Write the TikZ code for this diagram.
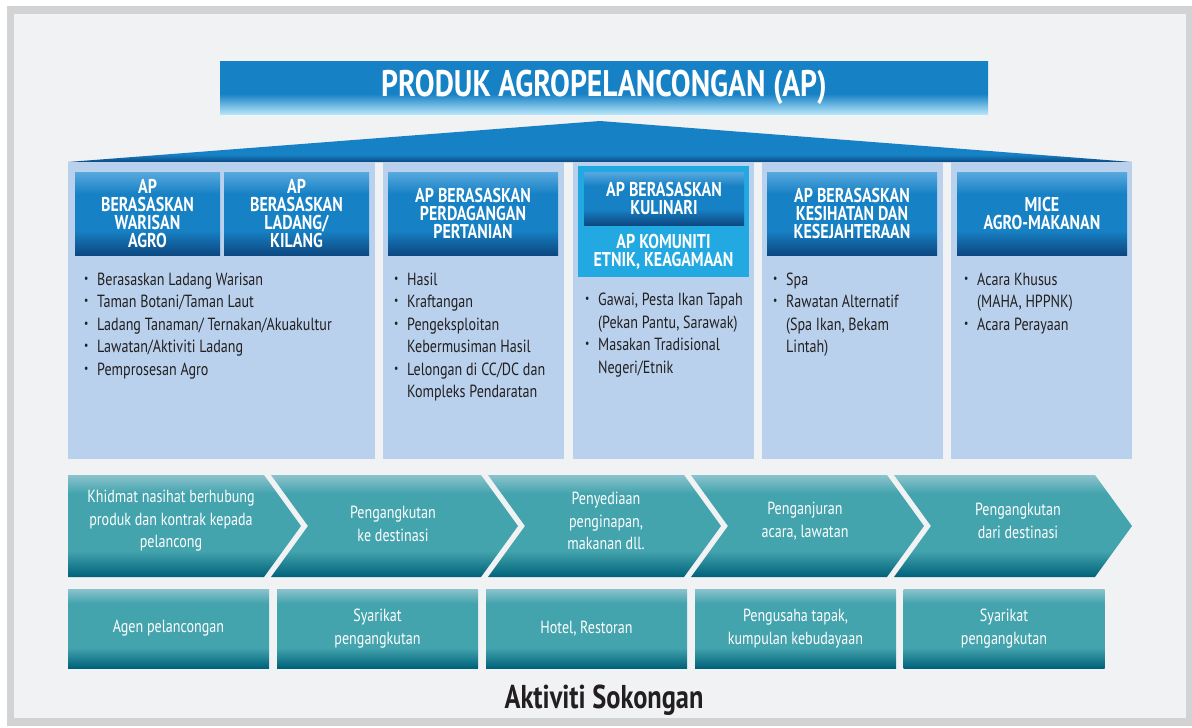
\documentclass[tikz,border=0pt]{standalone}
\usepackage{fontspec}
\setmainfont[FakeStretch=0.8]{PT Sans}
\definecolor{framegray}{HTML}{D1D3D5}
\definecolor{bgfill}{HTML}{F1F2F4}
\definecolor{colblue}{HTML}{B9D1EC}
\definecolor{hdrtop}{HTML}{58A9DE}
\definecolor{hdrmid}{HTML}{1781C5}
\definecolor{hdrdark}{HTML}{0C4881}
\definecolor{titlelight}{HTML}{B4E4F9}
\definecolor{kulcyan}{HTML}{22A9E2}
\definecolor{teallight}{HTML}{8BC3CD}
\definecolor{tealmid}{HTML}{44A4AE}
\definecolor{tealdark}{HTML}{00627A}
\definecolor{textdark}{HTML}{231F20}
\pgfdeclareverticalshading{hdrshade}{100bp}{color(0bp)=(hdrdark); color(25bp)=(hdrdark);
  color(40bp)=(hdrmid); color(62bp)=(hdrmid); color(75bp)=(hdrtop); color(100bp)=(hdrtop)}
\pgfdeclareverticalshading{titleshade}{100bp}{color(0bp)=(titlelight); color(25bp)=(titlelight);
  color(44bp)=(hdrmid); color(100bp)=(hdrmid)}
\pgfdeclareverticalshading{roofshade}{100bp}{color(0bp)=(hdrdark); color(25bp)=(hdrdark);
  color(34bp)=(hdrmid); color(100bp)=(hdrmid)}
\pgfdeclareverticalshading{tealshade}{100bp}{color(0bp)=(tealdark); color(25bp)=(tealdark);
  color(38bp)=(tealmid); color(66bp)=(tealmid); color(75bp)=(teallight); color(100bp)=(teallight)}
\newcommand{\bul}{\raisebox{0.15em}{\fontsize{12}{12}\selectfont\textbullet}}
\tikzset{%
  colbox/.style   = {shape=rectangle, fill=colblue, inner sep=0pt},%
  hdrbox/.style   = {shape=rectangle, shade, shading=hdrshade, inner sep=0pt,%
                     align=center, text=white,%
                     font=\fontsize{20}{18}\selectfont\bfseries},%
  titlebar/.style = {shape=rectangle, shade, shading=titleshade, inner sep=0pt,%
                     text=white, font=\fontsize{37}{40}\selectfont\bfseries},%
  bullets/.style  = {inner sep=0pt, anchor=base west, text=textdark,%
                     font=\fontsize{17.6}{22.5}\selectfont},%
  chevtxt/.style  = {inner sep=0pt, align=center, text=white,%
                     font=\fontsize{17.6}{22.5}\selectfont},%
  chev/.style     = {shade, shading=tealshade},%
  subbox/.style   = {shape=rectangle, shade, shading=tealshade, inner sep=0pt,%
                     minimum width=201, minimum height=79, align=center, text=white,%
                     font=\fontsize{17.6}{22.5}\selectfont}%
}
\begin{document}
\begin{tikzpicture}[x=1pt, y=-1pt]
	\useasboundingbox (0,0) rectangle (1192,728);
	\fill[framegray] (7,6) rectangle (1193,726);
	\fill[bgfill] (14,14) rectangle (1186,718);
	% title and roof
	\node[titlebar, minimum width=768, minimum height=53] (title) at (604,87.5) {PRODUK AGROPELANCONGAN (AP)};
	\shade[shading=roofshade] (68,162) -- (600,121) -- (1132,162) -- cycle;
	% columns
	\node[colbox, minimum width=307, minimum height=297] (col1) at (221.5,310.5) {};
	\node[colbox, minimum width=181, minimum height=297] (col2) at (473.5,310.5) {};
	\node[colbox, minimum width=181, minimum height=297] (col3) at (663.5,310.5) {};
	\node[colbox, minimum width=181, minimum height=297] (col4) at (852.5,310.5) {};
	\node[colbox, minimum width=181, minimum height=297] (col5) at (1041.5,310.5) {};
	% headers
	\node[hdrbox, minimum width=145, minimum height=83] (warisan) at (147.5,213.5) {AP\\BERASASKAN\\WARISAN\\AGRO};
	\node[hdrbox, minimum width=145, minimum height=83] (ladang) at (296.5,213.5) {AP\\BERASASKAN\\LADANG/\\KILANG};
	\node[hdrbox, minimum width=170, minimum height=83] (dagang) at (473,213.5) {AP BERASASKAN\\PERDAGANGAN\\PERTANIAN};
	\node[shape=rectangle, fill=kulcyan, minimum width=171, minimum height=111, inner sep=0pt] (etnikbg) at (663.5,221.5) {};
	\node[hdrbox, minimum width=160, minimum height=53] (kulinari) at (664,198.5) {AP BERASASKAN\\KULINARI};
	\node[inner sep=0pt, align=center, text=white, font=\fontsize{20}{18}\selectfont\bfseries] (etnik) at (663.5,251.5) {AP KOMUNITI\\ETNIK, KEAGAMAAN};
	\node[hdrbox, minimum width=170, minimum height=83] (sihat) at (852,213.5) {AP BERASASKAN\\KESIHATAN DAN\\KESEJAHTERAAN};
	\node[hdrbox, minimum width=170, minimum height=83] (mice) at (1042,213.5) {MICE\\AGRO-MAKANAN};
	% bullet lists
	\node[bullets] (list1) at (84,285) {\begin{tabular}[t]{@{}p{13pt}@{}l@{}}
		\bul & Berasaskan Ladang Warisan\\
		\bul & Taman Botani/Taman Laut\\
		\bul & Ladang Tanaman/ Ternakan/Akuakultur\\
		\bul & Lawatan/Aktiviti Ladang\\
		\bul & Pemprosesan Agro
		\end{tabular}};
	\node[bullets] (list2) at (394,285) {\begin{tabular}[t]{@{}p{13pt}@{}l@{}}
		\bul & Hasil\\
		\bul & Kraftangan\\
		\bul & Pengeksploitan\\
		     & Kebermusiman Hasil\\
		\bul & Lelongan di CC/DC dan\\
		     & Kompleks Pendaratan
		\end{tabular}};
	\node[bullets] (list3) at (585,305.5) {\begin{tabular}[t]{@{}p{13pt}@{}l@{}}
		\bul & Gawai, Pesta Ikan Tapah\\
		     & (Pekan Pantu, Sarawak)\\
		\bul & Masakan Tradisional\\
		     & Negeri/Etnik
		\end{tabular}};
	\node[bullets] (list4) at (773,285) {\begin{tabular}[t]{@{}p{13pt}@{}l@{}}
		\bul & Spa\\
		\bul & Rawatan Alternatif\\
		     & (Spa Ikan, Bekam\\
		     & Lintah)
		\end{tabular}};
	\node[bullets] (list5) at (964,285) {\begin{tabular}[t]{@{}p{13pt}@{}l@{}}
		\bul & Acara Khusus\\
		     & (MAHA, HPPNK)\\
		\bul & Acara Perayaan
		\end{tabular}};
	% chevrons
	\path[chev] (68,475) -- (264,475) -- (301,526) -- (264,577) -- (68,577) -- cycle;
	\path[chev] (271,475) -- (481,475) -- (518,526) -- (481,577) -- (271,577) -- (308,526) -- cycle;
	\path[chev] (488,475) -- (684,475) -- (721,526) -- (684,577) -- (488,577) -- (525,526) -- cycle;
	\path[chev] (691,475) -- (887,475) -- (924,526) -- (887,577) -- (691,577) -- (728,526) -- cycle;
	\path[chev] (894,475) -- (1095,475) -- (1132,526) -- (1095,577) -- (894,577) -- (931,526) -- cycle;
	\node[chevtxt] (nasihat) at (171,521) {Khidmat nasihat berhubung\\produk dan kontrak kepada\\pelancong};
	\node[chevtxt] (kedest) at (393,524) {Pengangkutan\\ke destinasi};
	\node[chevtxt] (inap) at (606,521) {Penyediaan\\penginapan,\\makanan dll.};
	\node[chevtxt] (anjur) at (805,521) {Penganjuran\\acara, lawatan};
	\node[chevtxt] (daridest) at (1018,521) {Pengangkutan\\dari destinasi};
	% supporting boxes
	\node[subbox] (agen) at (168.5,628.5) {Agen pelancongan};
	\node[subbox] (angkut1) at (377.5,628.5) {Syarikat\\pengangkutan};
	\node[subbox] (hotel) at (586.5,628.5) {Hotel, Restoran};
	\node[subbox] (tapak) at (795.5,628.5) {Pengusaha tapak,\\kumpulan kebudayaan};
	\node[subbox] (angkut2) at (1004,628.5) {Syarikat\\pengangkutan};
	\node[anchor=base, text=textdark, font=\fontsize{33}{36}\selectfont\bfseries] (sokong) at (604,708) {Aktiviti Sokongan};
\end{tikzpicture}
\end{document}
